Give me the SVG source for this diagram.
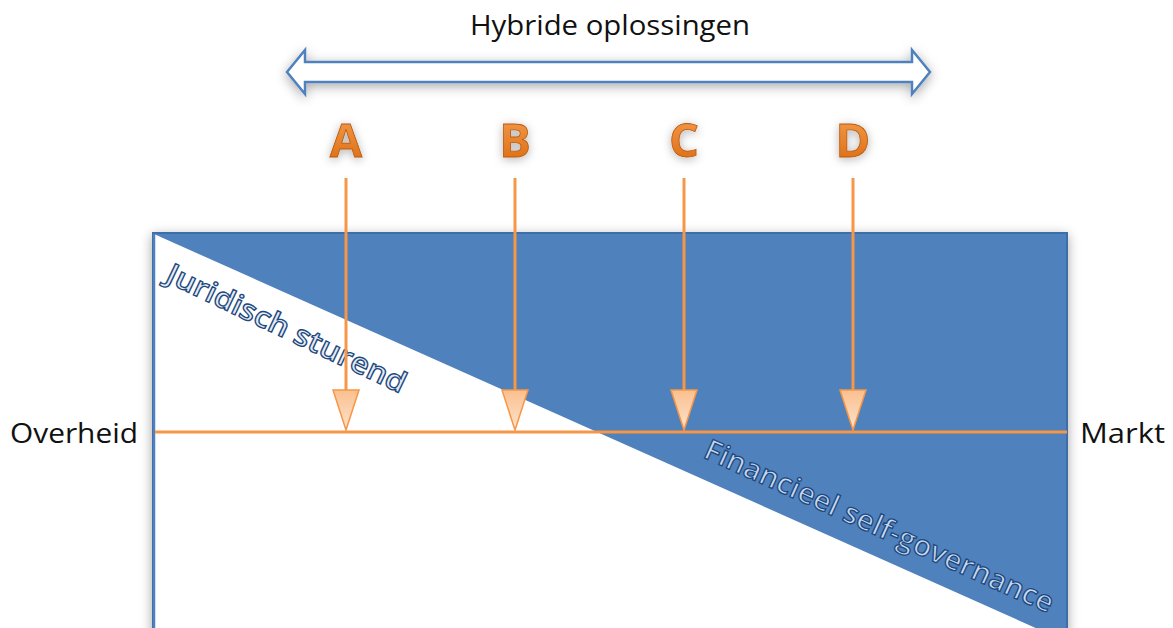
<svg xmlns="http://www.w3.org/2000/svg" width="1173" height="628" viewBox="0 0 1173 628">
<defs>
<style>
.lbl{font-family:"Open Sans","Liberation Sans",sans-serif;font-size:27px;fill:#111}
.let{font-family:"Open Sans","Liberation Sans",sans-serif;font-weight:bold;font-size:47px;fill:url(#og);stroke:#B85A10;stroke-width:0.8}
.diag{font-family:"Open Sans","DejaVu Sans",sans-serif;font-weight:600;font-size:29px;stroke:#1F497D;stroke-width:1.3}
.conn{stroke:#F79646;stroke-width:3;fill:none}
.head{fill:url(#hg);stroke:#F79646;stroke-width:1.5}
</style>
<linearGradient id="og" x1="0" y1="0" x2="0" y2="1">
<stop offset="0" stop-color="#F7A255"/><stop offset="1" stop-color="#D9660A"/>
</linearGradient>
<linearGradient id="hg" x1="0" y1="0" x2="0" y2="1">
<stop offset="0" stop-color="#FAC08F"/><stop offset="1" stop-color="#FDE3CC"/>
</linearGradient>
<filter id="sh" x="-10%" y="-30%" width="120%" height="160%">
<feDropShadow dx="0" dy="3" stdDeviation="6" flood-color="#000" flood-opacity="0.35"/>
</filter>
<filter id="sh2" x="-50%" y="-50%" width="200%" height="200%">
<feDropShadow dx="0" dy="2" stdDeviation="5" flood-color="#000" flood-opacity="0.3"/>
</filter>
</defs>
<rect width="1173" height="628" fill="#fff"/>

<g id="title">
<text class="lbl" x="470" y="35" textLength="280" lengthAdjust="spacingAndGlyphs">Hybride oplossingen</text>
</g>
<g id="hybrid-arrow" filter="url(#sh)">
<path d="M287,72 L305,50 L305,62 L912,62 L912,50 L930,72 L912,94 L912,82 L305,82 L305,94 Z" fill="#fff" stroke="#4F81BD" stroke-width="2.5" stroke-linejoin="miter"/>
</g>

<g id="letters" filter="url(#sh2)">
<text class="let" x="346" y="157" text-anchor="middle">A</text>
<text class="let" x="515" y="157" text-anchor="middle">B</text>
<text class="let" x="684" y="157" text-anchor="middle">C</text>
<text class="let" x="853" y="157" text-anchor="middle">D</text>
</g>

<g id="field">
<rect x="153" y="233" width="914" height="420" fill="#4F81BD" stroke="#3C6EAA" stroke-width="2" filter="url(#sh)"/>
<polygon points="154,234 1067,642 154,642" fill="#fff"/>
<line x1="154" y1="234" x2="154" y2="628" stroke="#4F81BD" stroke-width="2.5"/>
</g>

<g id="labels-diag">
<text class="diag" fill="#E4ECF6" transform="translate(164,281) rotate(25.5)" textLength="262" lengthAdjust="spacingAndGlyphs">Juridisch sturend</text>
<text class="diag" fill="#C6D9F1" transform="translate(702,457) rotate(24.3)" textLength="380" lengthAdjust="spacingAndGlyphs">Financieel self-governance</text>
</g>

<g id="axis-labels">
<text class="lbl" x="10" y="443" textLength="128" lengthAdjust="spacingAndGlyphs">Overheid</text>
<text class="lbl" x="1080" y="443" textLength="85" lengthAdjust="spacingAndGlyphs">Markt</text>
</g>

<g id="connectors">
<line class="conn" x1="155" y1="432" x2="1067" y2="432"/>
<line class="conn" x1="346" y1="178" x2="346" y2="392"/>
<line class="conn" x1="515" y1="178" x2="515" y2="392"/>
<line class="conn" x1="684" y1="178" x2="684" y2="392"/>
<line class="conn" x1="853" y1="178" x2="853" y2="392"/>
<path class="head" d="M333,390 L359,390 L346,430 Z"/>
<path class="head" d="M502,390 L528,390 L515,430 Z"/>
<path class="head" d="M671,390 L697,390 L684,430 Z"/>
<path class="head" d="M840,390 L866,390 L853,430 Z"/>
</g>
</svg>
